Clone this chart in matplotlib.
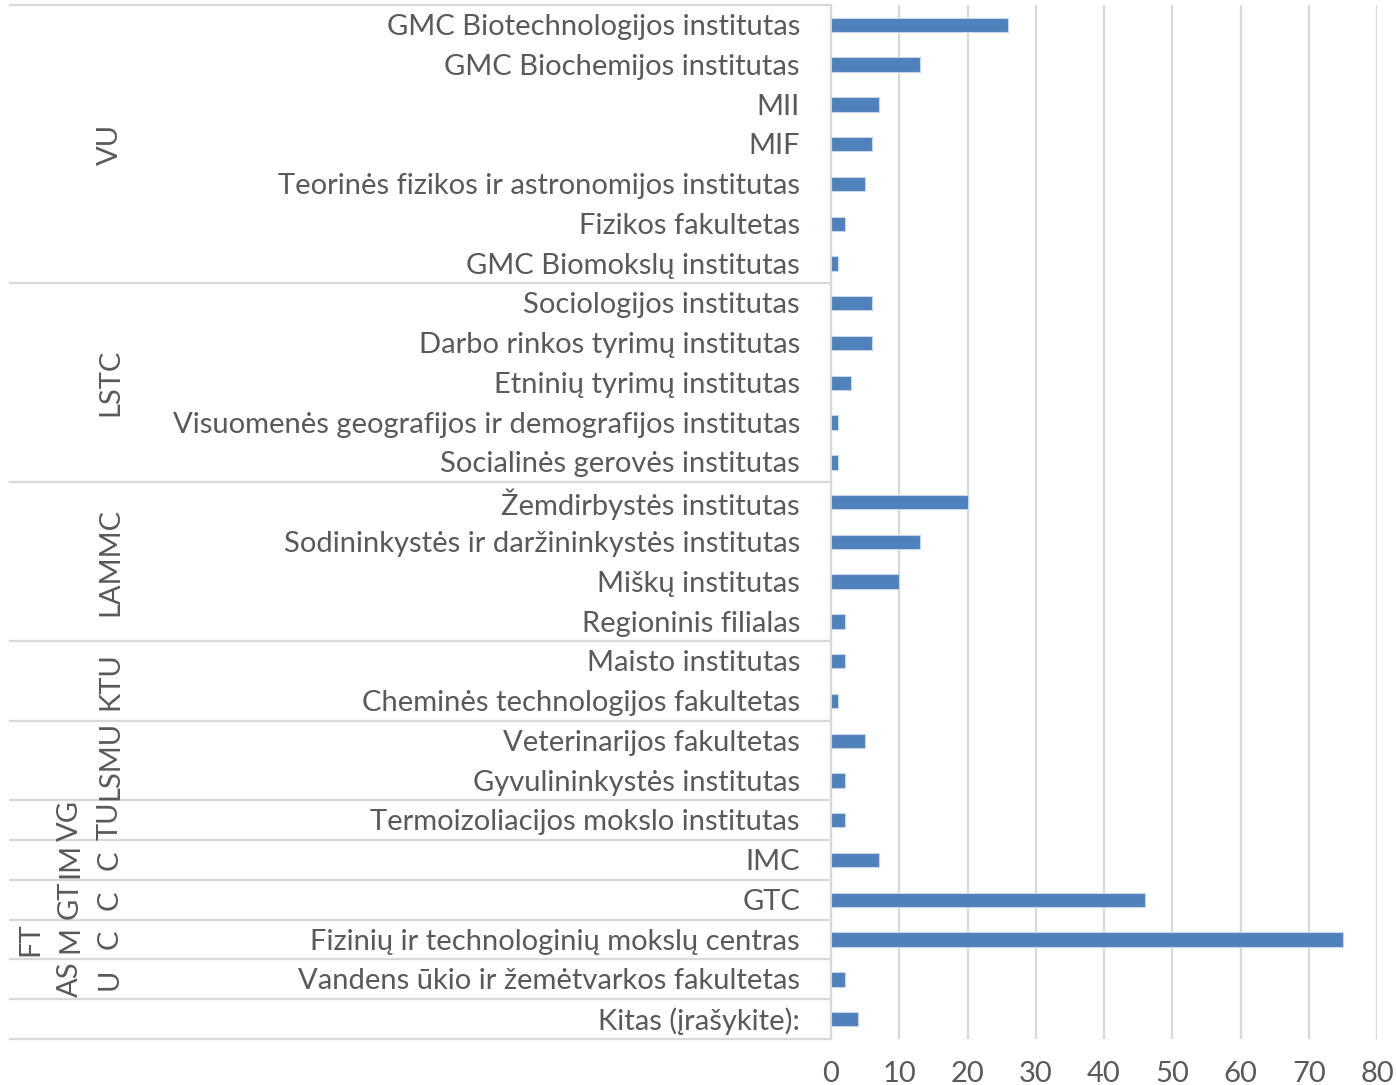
import matplotlib
matplotlib.use("Agg")
import matplotlib.pyplot as plt
from matplotlib.transforms import blended_transform_factory, offset_copy

# ---- data ----
categories = [
    "GMC Biotechnologijos institutas",
    "GMC Biochemijos institutas",
    "MII",
    "MIF",
    "Teorinės fizikos ir astronomijos institutas",
    "Fizikos fakultetas",
    "GMC Biomokslų institutas",
    "Sociologijos institutas",
    "Darbo rinkos tyrimų institutas",
    "Etninių tyrimų institutas",
    "Visuomenės geografijos ir demografijos institutas",
    "Socialinės gerovės institutas",
    "Žemdirbystės institutas",
    "Sodininkystės ir daržininkystės institutas",
    "Miškų institutas",
    "Regioninis filialas",
    "Maisto institutas",
    "Cheminės technologijos fakultetas",
    "Veterinarijos fakultetas",
    "Gyvulininkystės institutas",
    "Termoizoliacijos mokslo institutas",
    "IMC",
    "GTC",
    "Fizinių ir technologinių mokslų centras",
    "Vandens ūkio ir žemėtvarkos fakultetas",
    "Kitas (įrašykite):",
]
values = [26, 13, 7, 6, 5, 2, 1, 6, 6, 3, 1, 1, 20, 13, 10, 2, 2, 1, 5, 2, 2, 7, 46, 75, 2, 4]

# groups: displayed label (wrapped as in the original) and number of categories
group_labels = ["VU", "LSTC", "LAMMC", "KTU", "LSMU", "VG\nTU", "IM\nC", "GT\nC", "FT\nM\nC", "AS\nU", ""]
group_sizes = [7, 5, 4, 2, 2, 1, 1, 1, 1, 1, 1]

xticks = [0, 10, 20, 30, 40, 50, 60, 70, 80]

# ---- figure ----
W, H = 1396, 1085
fig = plt.figure(figsize=(W / 100, H / 100), dpi=100)
left_px, right_px, top_px, bot_px = 831, 1377, 5, 1039
ax = fig.add_axes([left_px / W, 1 - bot_px / H, (right_px - left_px) / W, (bot_px - top_px) / H])

FONT = "Lato"
TXT = "#595959"
GRID = "#D9D9D9"
FS = 21

n = len(categories)
ypos = list(range(n))
ax.barh(ypos, values, height=0.36, color="#4F81BD", edgecolor="#C6D5EA", linewidth=0.8, zorder=3)
ax.set_xlim(0, 80)
ax.set_ylim(n - 0.5, -0.5)
ax.set_xticks(xticks)
ax.set_xticklabels([str(t) for t in xticks], fontsize=FS, color=TXT, fontfamily=FONT)
ax.tick_params(axis="x", length=0, pad=16)
ax.set_yticks([])
ax.grid(axis="x", color=GRID, linewidth=1.6, zorder=0)
for s in ["top", "right", "bottom"]:
    ax.spines[s].set_visible(False)
ax.spines["left"].set_color(GRID)
ax.spines["left"].set_linewidth(1.6)

axw = right_px - left_px
def px2ax(xp):
    return (xp - left_px) / axw

trans = blended_transform_factory(ax.transAxes, ax.transData)
trans_lbl = offset_copy(trans, fig=fig, y=-1.5, units="points")

# category labels
for y, c in zip(ypos, categories):
    ax.text(px2ax(800), y, c, transform=trans_lbl, ha="right", va="center",
            fontsize=FS, color=TXT, fontfamily=FONT)

# group separators and labels
start = 0
bounds = [-0.5]
for g, size in zip(group_labels, group_sizes):
    end = start + size
    bounds.append(end - 0.5)
    center = (start + end - 1) / 2
    lines = g.split("\n") if g else []
    k = len(lines)
    for i, ln in enumerate(lines):
        xp = 110 - 40 * (k - 1 - i)
        ax.text(px2ax(xp), center, ln, transform=trans, ha="center", va="center",
                rotation=90, fontsize=FS, color=TXT, fontfamily=FONT)
    start = end

for b in bounds:
    ax.plot([px2ax(10), 0], [b, b], transform=trans, color=GRID, linewidth=1.6,
            clip_on=False, zorder=1)

fig.savefig("out.png", dpi=100)
